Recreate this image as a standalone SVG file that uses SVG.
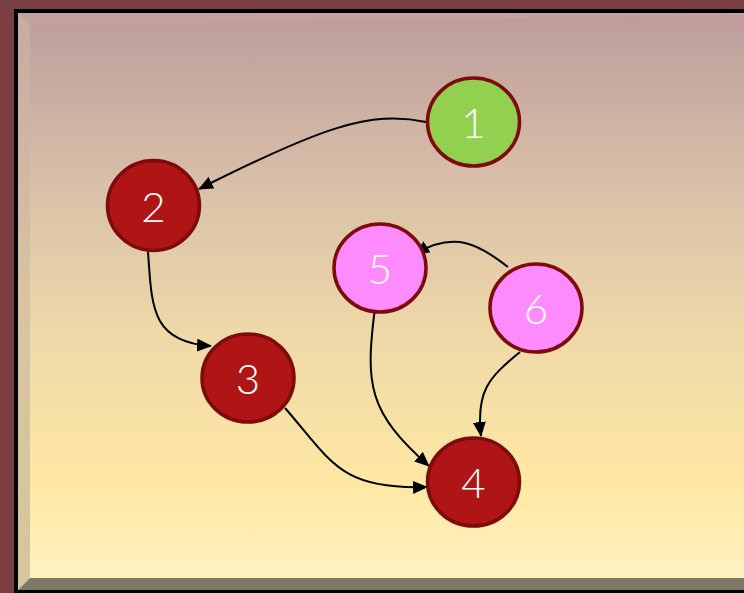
<svg xmlns="http://www.w3.org/2000/svg" width="744" height="593" viewBox="0 0 744 593">
  <defs>
    <linearGradient id="bg" x1="0" y1="0" x2="0" y2="1">
      <stop offset="0" stop-color="#bd9c9b"/>
      <stop offset="0.3" stop-color="#d9c0a9"/>
      <stop offset="0.55" stop-color="#eed8a8"/>
      <stop offset="0.82" stop-color="#ffe8a3"/>
      <stop offset="1" stop-color="#fff2c6"/>
    </linearGradient>
    <linearGradient id="bevel" x1="0" y1="0" x2="0" y2="1">
      <stop offset="0" stop-color="#c9aaa3"/>
      <stop offset="0.5" stop-color="#d8c4a2"/>
      <stop offset="1" stop-color="#d6c699"/>
    </linearGradient>
    <marker id="arrow" markerWidth="15" markerHeight="13" refX="14" refY="6.5" orient="auto" markerUnits="userSpaceOnUse">
      <path d="M0,0 L15,6.5 L0,13 Z" fill="#000"/>
    </marker>
    <style>
      .edge { fill: none; stroke: #000; stroke-width: 2; marker-end: url(#arrow); }
      .red { fill: #b01515; stroke: #7e0b0b; stroke-width: 3.5; }
      .green { fill: #92d050; stroke: #7e0b0b; stroke-width: 3.5; }
      .pink { fill: #ff8cff; stroke: #7e0b0b; stroke-width: 3.5; }
      .label { fill: #fff; font-family: "Lato", "DejaVu Sans", sans-serif; font-weight: 300; font-size: 42px; text-anchor: middle; dominant-baseline: central; }
    </style>
  </defs>

  <!-- frame -->
  <rect x="0" y="0" width="744" height="593" fill="#7a3f40"/>
  <rect x="14" y="9" width="730" height="584" fill="#000"/>
  <rect x="18" y="13" width="726" height="577" fill="url(#bg)"/>
  <!-- bevels -->
  <polygon points="18,13 30,25 30,578 18,590" fill="url(#bevel)"/>
  <polygon points="18,13 744,13 744,15 30,25" fill="#c6a5a2" opacity="0.5"/>
  <polygon points="18,590 30,578 744,578 744,590" fill="#7e7a66"/>

  <!-- connectors -->
  <g id="edges">
    <path class="edge" d="M426,122 C370,110 320,128 199,189"/>
    <path class="edge" d="M148,252 C152,305 150,342 211,346"/>
    <path class="edge" d="M285,408 C332,462 340,490 427,487"/>
    <path class="edge" d="M375,308 C365,385 368,412 429,466"/>
    <path class="edge" d="M520,352 C488,378 476,392 481,436"/>
    <path class="edge" d="M508,267 C480,245 455,230 415,254"/>
  </g>

  <g id="node1">
    <ellipse class="green" cx="473.5" cy="122" rx="46" ry="44"/>
    <text class="label" x="473.5" y="122">1</text>
  </g>
  <g id="node2">
    <ellipse class="red" cx="153.5" cy="205.5" rx="46" ry="45"/>
    <text class="label" x="153.5" y="205.5">2</text>
  </g>
  <g id="node3">
    <ellipse class="red" cx="248" cy="378" rx="46" ry="44"/>
    <text class="label" x="248" y="378">3</text>
  </g>
  <g id="node4">
    <ellipse class="red" cx="473.5" cy="482" rx="46" ry="44"/>
    <text class="label" x="473.5" y="482">4</text>
  </g>
  <g id="node5">
    <ellipse class="pink" cx="380" cy="268" rx="46" ry="44"/>
    <text class="label" x="380" y="268">5</text>
  </g>
  <g id="node6">
    <ellipse class="pink" cx="536" cy="308" rx="46" ry="44"/>
    <text class="label" x="536" y="308">6</text>
  </g>
</svg>
